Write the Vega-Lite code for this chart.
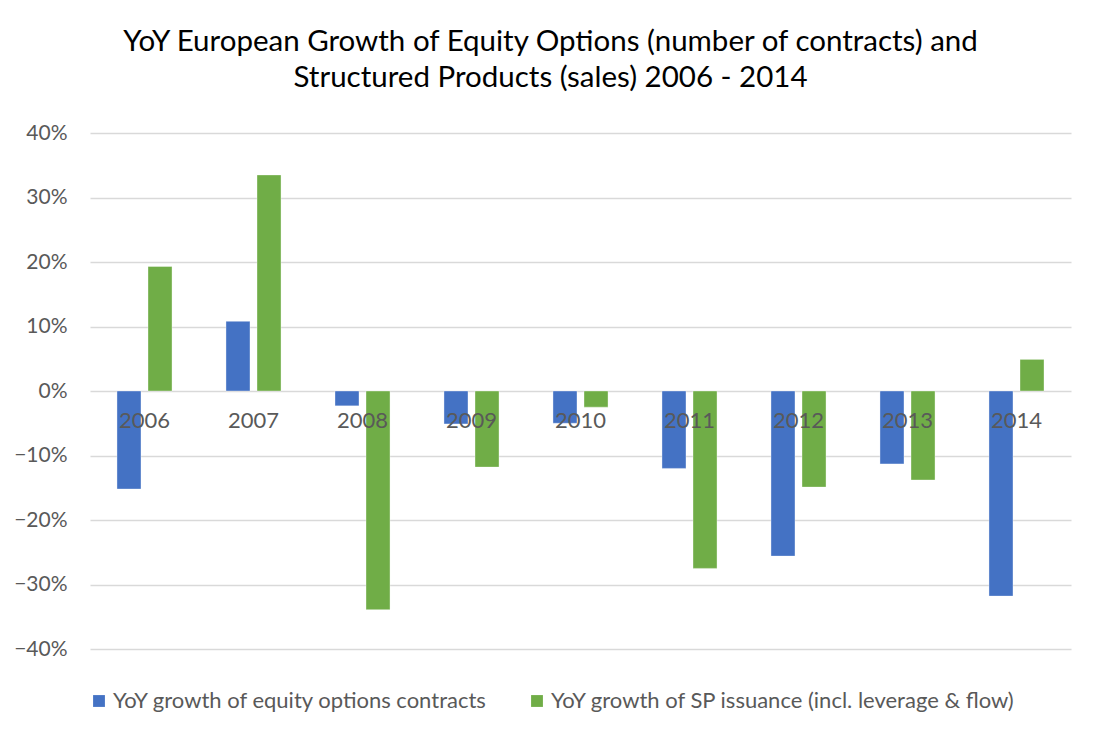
{
  "$schema": "https://vega.github.io/schema/vega-lite/v6.json",
  "autosize": {"type": "none"},
  "width": 981,
  "height": 516,
  "padding": {"left": 90, "top": 133, "right": 29, "bottom": 91},
  "background": "white",
  "title": {
    "text": ["YoY European Growth of Equity Options (number of contracts) and", "Structured Products (sales) 2006 - 2014"],
    "font": "Lato",
    "fontSize": 29.5,
    "fontWeight": "normal",
    "color": "#000000",
    "anchor": "middle",
    "dx": -30,
    "offset": 29,
    "lineHeight": 36
  },
  "config": {
    "view": {"stroke": null},
    "font": "Lato"
  },
  "data": {
    "values": [
      {"year": "2006", "series": "YoY growth of equity options contracts", "value": -0.152},
      {"year": "2006", "series": "YoY growth of SP issuance (incl. leverage & flow)", "value": 0.193},
      {"year": "2007", "series": "YoY growth of equity options contracts", "value": 0.108},
      {"year": "2007", "series": "YoY growth of SP issuance (incl. leverage & flow)", "value": 0.335},
      {"year": "2008", "series": "YoY growth of equity options contracts", "value": -0.023},
      {"year": "2008", "series": "YoY growth of SP issuance (incl. leverage & flow)", "value": -0.339},
      {"year": "2009", "series": "YoY growth of equity options contracts", "value": -0.051},
      {"year": "2009", "series": "YoY growth of SP issuance (incl. leverage & flow)", "value": -0.118},
      {"year": "2010", "series": "YoY growth of equity options contracts", "value": -0.050},
      {"year": "2010", "series": "YoY growth of SP issuance (incl. leverage & flow)", "value": -0.025},
      {"year": "2011", "series": "YoY growth of equity options contracts", "value": -0.120},
      {"year": "2011", "series": "YoY growth of SP issuance (incl. leverage & flow)", "value": -0.275},
      {"year": "2012", "series": "YoY growth of equity options contracts", "value": -0.256},
      {"year": "2012", "series": "YoY growth of SP issuance (incl. leverage & flow)", "value": -0.149},
      {"year": "2013", "series": "YoY growth of equity options contracts", "value": -0.113},
      {"year": "2013", "series": "YoY growth of SP issuance (incl. leverage & flow)", "value": -0.138},
      {"year": "2014", "series": "YoY growth of equity options contracts", "value": -0.318},
      {"year": "2014", "series": "YoY growth of SP issuance (incl. leverage & flow)", "value": 0.049}
    ]
  },
  "mark": {"type": "bar", "stroke": "#ffffff", "strokeWidth": 0.6, "strokeOpacity": 0.6},
  "encoding": {
    "x": {
      "field": "year",
      "type": "nominal",
      "scale": {"paddingInner": 0.495, "paddingOuter": 0.2475},
      "axis": {
        "title": null,
        "labelAngle": 0,
        "domain": false,
        "ticks": false,
        "offset": -258.4,
        "labelPadding": 20,
        "labelFont": "Lato",
        "labelFontSize": 22,
        "labelColor": "#595959",
        "zindex": 2
      }
    },
    "xOffset": {
      "field": "series",
      "type": "nominal",
      "sort": ["YoY growth of equity options contracts", "YoY growth of SP issuance (incl. leverage & flow)"],
      "scale": {"paddingInner": 0.226, "paddingOuter": 0}
    },
    "y": {
      "field": "value",
      "type": "quantitative",
      "scale": {"domain": [-0.4, 0.4], "nice": false},
      "axis": {
        "title": null,
        "format": ".0%",
        "values": [-0.4, -0.3, -0.2, -0.1, 0, 0.1, 0.2, 0.3, 0.4],
        "domain": false,
        "ticks": false,
        "labelPadding": 23,
        "labelFont": "Lato",
        "labelFontSize": 21,
        "labelColor": "#595959",
        "gridColor": "#d9d9d9",
        "gridWidth": 1.3
      }
    },
    "color": {
      "field": "series",
      "type": "nominal",
      "scale": {
        "domain": ["YoY growth of equity options contracts", "YoY growth of SP issuance (incl. leverage & flow)"],
        "range": ["#4472C4", "#70AD47"]
      },
      "legend": {
        "title": null,
        "orient": "none",
        "legendX": -2,
        "legendY": 557,
        "direction": "horizontal",
        "symbolType": "square",
        "symbolSize": 140,
        "symbolStrokeWidth": 0,
        "labelFont": "Lato",
        "labelFontSize": 22,
        "labelColor": "#595959",
        "labelOffset": 3,
        "columnPadding": 38,
        "labelLimit": 600
      }
    }
  }
}
